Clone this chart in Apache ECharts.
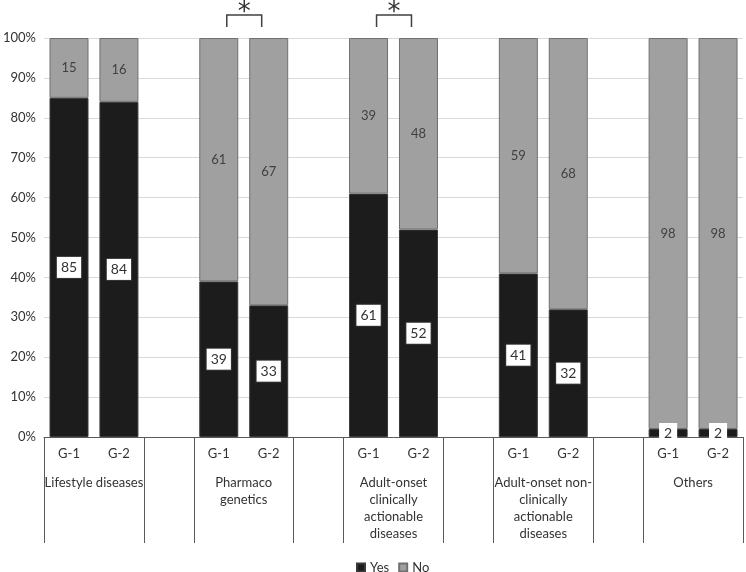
<!DOCTYPE html>
<html>
<head>
<meta charset="utf-8">
<script src="https://cdn.jsdelivr.net/npm/echarts@6/dist/echarts.min.js"></script>
<style>html,body{margin:0;padding:0;background:#fff}#c{width:746px;height:572px}</style>
</head>
<body>
<div id="c"></div>
<script>
// ---- data ----
const groupNames = ['Lifestyle diseases', 'Pharmaco\ngenetics', 'Adult-onset\nclinically\nactionable\ndiseases', 'Adult-onset non-\nclinically\nactionable\ndiseases', 'Others'];
const subLabels = ['G-1', 'G-2'];
const yesValues = [85, 84, 39, 33, 61, 52, 41, 32, 2, 2];
const noValues = [15, 16, 61, 67, 39, 48, 59, 68, 98, 98];
const significantGroups = [1, 2]; // groups marked with *
const yTicks = [0, 10, 20, 30, 40, 50, 60, 70, 80, 90, 100];

// build slot layout: 2 bars per group, blank slot between groups
const categories = [];
const yesSlots = [];
const noSlots = [];
const groupCenters = [];
const separators = [];
groupNames.forEach((g, gi) => {
  const start = categories.length;
  separators.push(start);
  subLabels.forEach((s, si) => {
    categories.push(s);
    yesSlots.push(yesValues[gi * 2 + si]);
    noSlots.push(noValues[gi * 2 + si]);
  });
  separators.push(start + 2);
  groupCenters.push(start + 1);
  if (gi < groupNames.length - 1) {
    categories.push('');
    yesSlots.push(null);
    noSlots.push(null);
  }
});
const nSlots = categories.length;

const FONT = 'Lato, "Open Sans", sans-serif';
const TXT = '#333';
const chart = echarts.init(document.getElementById('c'));

const yesData = yesSlots.map((v) => {
  if (v === null) return null;
  if (v < 5) {
    return { value: v, label: { borderWidth: 0, padding: [3, 5] } };
  }
  return v;
});

const option = {
  animation: false,
  textStyle: { fontFamily: FONT },
  grid: { left: 41, right: 3, top: 38, bottom: 135 },
  legend: {
    data: ['Yes', 'No'],
    left: 351, top: 556,
    icon: 'rect', itemWidth: 8, itemHeight: 8, itemGap: 9,
    textStyle: { fontFamily: FONT, fontSize: 13, color: TXT }
  },
  xAxis: [
    {
      type: 'category',
      data: categories,
      axisLine: { lineStyle: { color: '#595959', width: 1 } },
      axisTick: { show: false },
      axisLabel: { interval: 0, fontSize: 13, color: TXT, margin: 10, fontFamily: FONT }
    },
    {
      type: 'value',
      position: 'bottom',
      min: 0, max: nSlots,
      axisLine: { show: false },
      splitLine: { show: false },
      axisTick: {
        show: true, customValues: separators, length: 106,
        lineStyle: { color: '#595959', width: 1 }
      },
      axisLabel: {
        customValues: groupCenters,
        formatter: (v) => groupNames[groupCenters.indexOf(Math.round(v))] || '',
        fontSize: 13, color: TXT, lineHeight: 17, margin: 37,
        verticalAlign: 'top', align: 'center', fontFamily: FONT
      }
    }
  ],
  yAxis: {
    type: 'value', min: 0, max: 100, interval: 10,
    axisLine: { show: false }, axisTick: { show: false },
    axisLabel: { formatter: '{value}%', fontSize: 13, color: TXT, margin: 8, fontFamily: FONT },
    splitLine: { lineStyle: { color: '#d9d9d9', width: 1 } }
  },
  series: [
    {
      name: 'Yes', type: 'bar', stack: 'total', barWidth: 39,
      data: yesData,
      itemStyle: { color: '#1c1c1c', borderColor: '#3a3a3a', borderWidth: 1 },
      label: {
        show: true, position: 'inside', fontSize: 14, color: '#333',
        backgroundColor: '#fff', borderColor: '#333', borderWidth: 1, padding: [4, 4, 3, 4],
        fontFamily: FONT
      }
    },
    {
      name: 'No', type: 'bar', stack: 'total', barWidth: 39,
      data: noSlots,
      itemStyle: { color: '#a0a0a0', borderColor: '#707070', borderWidth: 1 },
      label: { show: true, position: 'inside', fontSize: 13, color: '#404040', fontFamily: FONT }
    }
  ]
};
chart.setOption(option);

// significance brackets
const elements = [];
significantGroups.forEach((gi) => {
  const c1 = groupCenters[gi] - 1;
  const c2 = groupCenters[gi];
  const x1 = chart.convertToPixel({ xAxisIndex: 0 }, c1) + 8;
  const x2 = chart.convertToPixel({ xAxisIndex: 0 }, c2) - 7;
  const yTop = chart.convertToPixel({ yAxisIndex: 0 }, 100);
  elements.push({
    type: 'polyline',
    shape: { points: [[x1, yTop - 11], [x1, yTop - 23], [x2, yTop - 23], [x2, yTop - 11]] },
    style: { stroke: '#404040', lineWidth: 1.5, fill: null }
  });
  elements.push({
    type: 'text',
    x: (x1 + x2) / 2, y: yTop - 25,
    style: { text: '*', fontSize: 26, fill: '#333', align: 'center', verticalAlign: 'middle', fontFamily: '"DejaVu Sans", sans-serif' }
  });
});
chart.setOption({ graphic: elements });
</script>
</body>
</html>
